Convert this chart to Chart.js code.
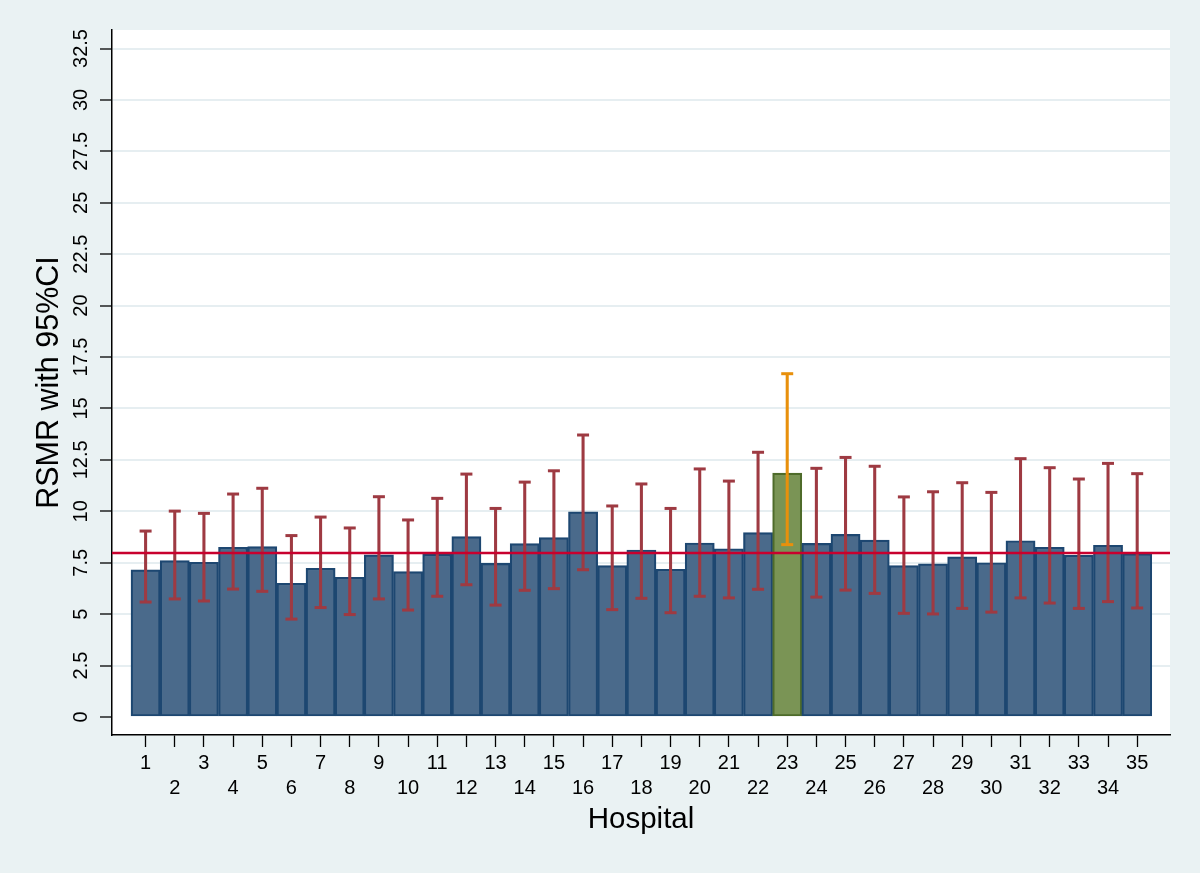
<!DOCTYPE html>
<html>
<head>
<meta charset="utf-8">
<script src="https://cdn.jsdelivr.net/npm/chart.js@4.4.1/dist/chart.umd.min.js"></script>
<style>
  html, body { margin: 0; padding: 0; background: #eaf2f3; }
  canvas { display: block; }
</style>
</head>
<body>
<canvas id="c" width="1200" height="873"></canvas>
<script>
// ---- data ----
const hospitals = [1,2,3,4,5,6,7,8,9,10,11,12,13,14,15,16,17,18,19,20,21,22,23,24,25,26,27,28,29,30,31,32,33,34,35];
const rsmr  = [7.15,7.60,7.52,8.25,8.28,6.50,7.23,6.79,7.88,7.07,7.91,8.77,7.47,8.43,8.72,9.97,7.36,8.12,7.18,8.46,8.18,8.96,11.86,8.44,8.88,8.60,7.36,7.45,7.79,7.50,8.57,8.25,7.86,8.35,7.94];
const ciUpper = [9.04,10.01,9.90,10.84,11.12,8.82,9.72,9.19,10.71,9.58,10.63,11.81,10.14,11.42,11.97,13.71,10.26,11.33,10.14,12.06,11.47,12.87,16.69,12.09,12.62,12.19,10.70,10.95,11.39,10.92,12.56,12.12,11.57,12.33,11.83];
const ciLower = [5.59,5.74,5.64,6.22,6.11,4.76,5.32,4.98,5.74,5.20,5.87,6.43,5.44,6.16,6.24,7.16,5.22,5.77,5.07,5.87,5.79,6.21,8.38,5.83,6.17,6.01,5.04,5.01,5.28,5.10,5.79,5.54,5.28,5.61,5.30];
const overallRate = 7.97;
const highlighted = 23;
const yTickValues = [0,2.5,5,7.5,10,12.5,15,17.5,20,22.5,25,27.5,30,32.5];
const xTitle = 'Hospital';
const yTitle = 'RSMR with 95%CI';

// ---- styling ----
const X_MIN = -0.152, X_MAX = 36.125;
const Y_MIN = -0.875, Y_MAX = 33.40;
const FONT = "'Liberation Sans', Arial, Helvetica, sans-serif";
const barFill = '#4a6a8b', barEdge = '#1d4771';
const hiFill = '#7a9455', hiEdge = '#4e6b2a';
const ciColor = '#9e3a42', hiCiColor = '#e8900c';
const refColor = '#c8002e';

const isHi = h => h === highlighted;

const bgPlugin = {
  id: 'bg',
  beforeDraw(chart) {
    const {ctx, chartArea: a} = chart;
    ctx.save();
    ctx.fillStyle = '#eaf2f3';
    ctx.fillRect(0, 0, chart.width, chart.height);
    ctx.fillStyle = '#ffffff';
    ctx.fillRect(a.left, a.top, a.right - a.left, a.bottom - a.top);
    ctx.restore();
  }
};

new Chart(document.getElementById('c'), {
  type: 'bar',
  data: {
    datasets: [
      {
        type: 'line',
        label: 'overall',
        data: [{x: X_MIN, y: overallRate}, {x: X_MAX, y: overallRate}],
        borderColor: refColor,
        borderWidth: 2.5,
        pointRadius: 0,
        order: 0
      },
      {
        type: 'scatter',
        label: 'caps',
        data: hospitals.map((h, i) => ({x: h, y: ciUpper[i]})).concat(hospitals.map((h, i) => ({x: h, y: ciLower[i]}))),
        pointStyle: 'line',
        radius: 6,
        borderWidth: 3,
        borderColor: hospitals.concat(hospitals).map(h => isHi(h) ? hiCiColor : ciColor),
        backgroundColor: hospitals.concat(hospitals).map(h => isHi(h) ? hiCiColor : ciColor),
        order: 1
      },
      {
        type: 'bar',
        label: 'ci',
        data: hospitals.map((h, i) => ({x: h, y: [ciLower[i], ciUpper[i]]})),
        backgroundColor: hospitals.map(h => isHi(h) ? hiCiColor : ciColor),
        borderWidth: 0,
        barThickness: 2.4,
        grouped: false,
        order: 2
      },
      {
        type: 'bar',
        label: 'RSMR',
        data: hospitals.map((h, i) => ({x: h, y: rsmr[i]})),
        backgroundColor: hospitals.map(h => isHi(h) ? hiFill : barFill),
        borderColor: hospitals.map(h => isHi(h) ? hiEdge : barEdge),
        borderWidth: 2.2,
        borderSkipped: false,
        barPercentage: 1,
        categoryPercentage: 1,
        grouped: false,
        order: 3
      }
    ]
  },
  options: {
    responsive: false,
    animation: false,
    devicePixelRatio: 1,
    layout: { padding: { top: 30, right: 30, left: 0, bottom: 0 } },
    plugins: { legend: { display: false }, tooltip: { enabled: false } },
    scales: {
      x: {
        type: 'linear',
        min: X_MIN, max: X_MAX,
        offset: false,
        afterFit(s) { s.height = 138; },
        afterBuildTicks(s) { s.ticks = hospitals.map(v => ({value: v})); },
        grid: { offset: false, drawOnChartArea: false, drawTicks: true, tickLength: 12, tickWidth: 1.3, tickColor: '#000' },
        border: { display: true, color: '#000', width: 1.5 },
        ticks: {
          autoSkip: false, maxRotation: 0, minRotation: 0,
          padding: 4,
          color: '#000',
          font: { family: FONT, size: 20, lineHeight: 1.25 },
          callback: v => (v % 2 === 1) ? [String(v), ''] : ['', String(v)]
        },
        title: {
          display: true, text: xTitle, color: '#000',
          font: { family: FONT, size: 29.5 },
          padding: { top: 0, bottom: 35 }
        }
      },
      y: {
        type: 'linear',
        min: Y_MIN, max: Y_MAX,
        afterFit(s) { s.width = 112; },
        afterBuildTicks(s) { s.ticks = yTickValues.map(v => ({value: v})); },
        grid: {
          color: ctx => (ctx.tick && ctx.tick.value === 0) ? 'rgba(0,0,0,0)' : '#e6eef1',
          lineWidth: 2,
          drawTicks: true, tickLength: 12, tickWidth: 1.3, tickColor: '#000'
        },
        border: { display: true, color: '#000', width: 1.5 },
        ticks: {
          minRotation: 90, maxRotation: 90,
          crossAlign: 'center',
          padding: -1,
          color: '#000',
          font: { family: FONT, size: 20 },
          callback: v => String(v)
        },
        title: {
          display: true, text: yTitle, color: '#000',
          font: { family: FONT, size: 30.5 },
          padding: { top: 31, bottom: 0 }
        }
      }
    }
  },
  plugins: [bgPlugin]
});
</script>
</body>
</html>
